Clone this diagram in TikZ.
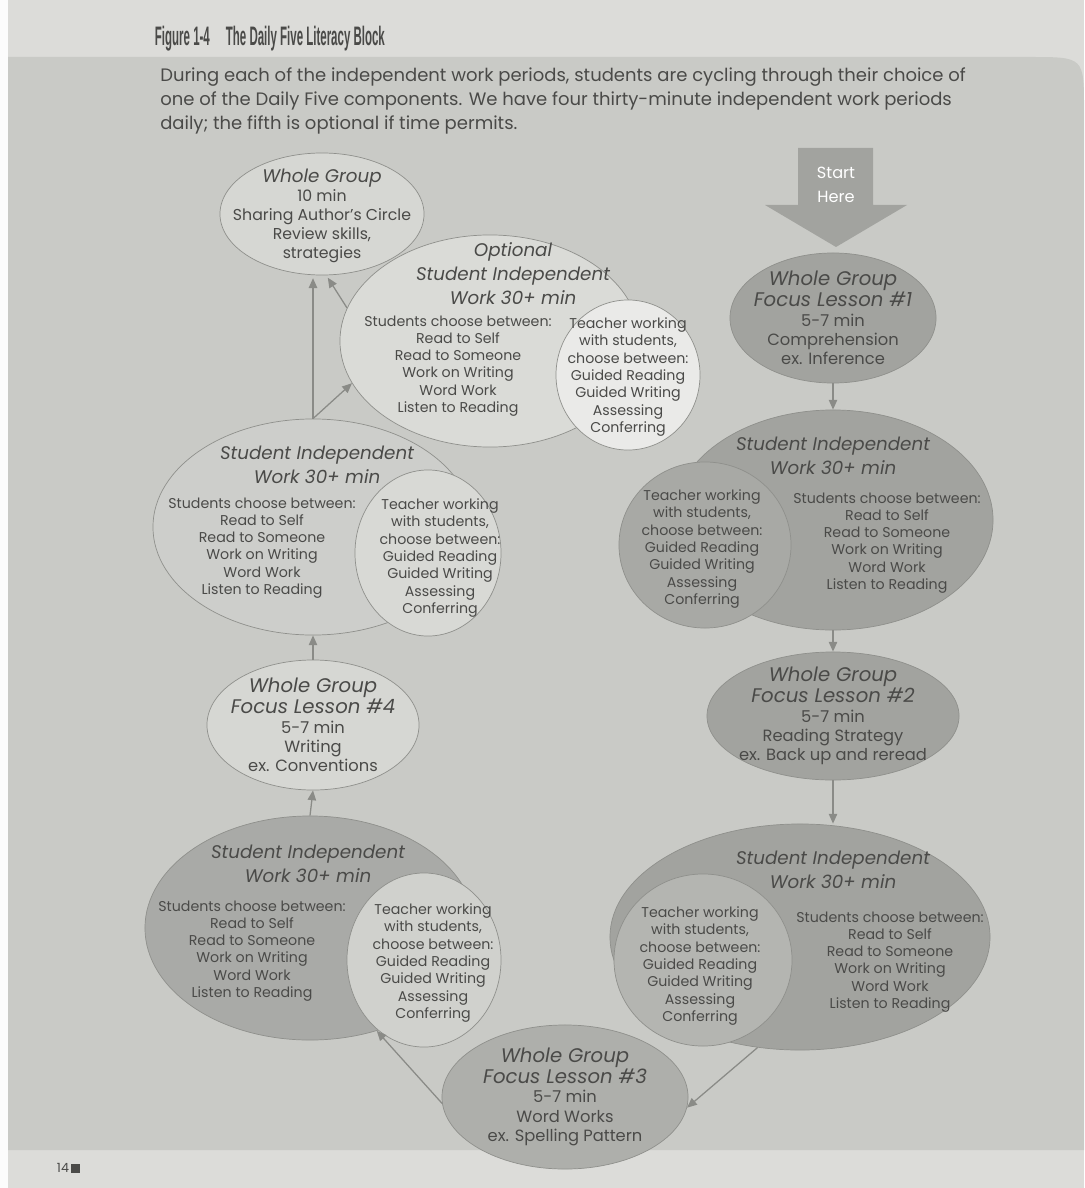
\documentclass[tikz,border=0pt]{standalone}
\usepackage{fontspec}
\setmainfont{Poppins}
\newfontfamily\titlefont[FakeStretch=0.43]{Liberation Sans}
\usetikzlibrary{shapes.geometric,arrows.meta}

\definecolor{pagegray}{HTML}{DCDCD9}
\definecolor{panelgray}{HTML}{C9CAC6}
\definecolor{ink}{HTML}{4A4A48}
\definecolor{rimgray}{HTML}{8F908C}
\definecolor{arrowgray}{HTML}{8A8B87}
\definecolor{lightfill}{HTML}{D6D7D3}
\definecolor{optfill}{HTML}{DADBD7}
\definecolor{whitefill}{HTML}{EAEAE8}
\definecolor{darkfill}{HTML}{A2A39F}
\definecolor{midfill}{HTML}{AEAFAB}
\definecolor{palefill}{HTML}{B4B5B1}

\newcommand{\headfont}{\fontsize{13}{17}\selectfont\itshape}
\newcommand{\lessonhead}{\fontsize{14}{15.5}\selectfont\itshape}
\newcommand{\listfont}{\fontsize{10.1}{12.3}\selectfont}

\begin{document}
\begin{tikzpicture}[x=0.025cm, y=-0.025cm,
    groupblob/.style={ellipse, draw=rimgray, line width=0.5pt, inner sep=0pt},
    lessontext/.style={text=ink, align=center, inner sep=0pt, font=\fontsize{11.6}{13.8}\selectfont},
    worktitle/.style={text=ink, align=center, inner sep=0pt, font=\headfont},
    worklist/.style={text=ink, align=center, inner sep=0pt, font=\listfont},
    flow/.style={draw=arrowgray, line width=0.9pt, -{Triangle[length=7pt,width=6pt]}}]
  %
  % PAGE
  \useasboundingbox (0,0) rectangle (1084,1188);
  \fill[pagegray] (0,0) rectangle (1084,1188);
  \fill[white!92!pagegray] (0,0) rectangle (8,1188);
  \fill[panelgray] (8,1150) -- (8,57) -- (1030,57) .. controls (1084,57) .. (1084,110) -- (1084,1150) -- cycle;
  \node[anchor=west, text=ink, font=\titlefont\bfseries\fontsize{19}{22}\selectfont] (title) at (150,39) {Figure 1-4\hspace{0.6em}The Daily Five Literacy Block};
  \node[anchor=north west, align=left, inner sep=0pt, text=ink, font=\fontsize{12.8}{17.2}\selectfont] (intro) at (160,67) {During each of the independent work periods, students are cycling through their choice of\\one of the Daily Five components. We have four thirty-minute independent work periods\\daily; the fifth is optional if time permits.};
  \node[anchor=west, text=ink, font=\fontsize{9}{11}\selectfont] (pagenum) at (52,1168) {14\,\rule{6pt}{6pt}};
  %
  % START HERE
  \fill[darkfill] (798,148) -- (873,148) -- (873,205) -- (907,205) -- (836,247) -- (765,205) -- (798,205) -- cycle;
  \node[align=center, text=white, font=\fontsize{11.5}{17}\selectfont] (start) at (836,185) {Start\\Here};
  %
  % RIGHT COLUMN
  \node[groupblob, fill=darkfill, minimum width=8cm, minimum height=5.5cm] (siwR) at (833,520) {};
  \node[groupblob, fill=darkfill!94!white, minimum width=4.3cm, minimum height=4.15cm] (tchR) at (705,545) {};
  \node[worktitle] (siwRhead) at (833,456) {Student Independent\\Work 30+ min};
  \node[worklist] (siwRlist) at (887,543) {Students choose between:\\Read to Self\\Read to Someone\\Work on Writing\\Word Work\\Listen to Reading};
  \node[worklist] (tchRtext) at (702,549) {Teacher working\\with students,\\choose between:\\Guided Reading\\Guided Writing\\Assessing\\Conferring};
  %
  % TOP LEFT
  \node[groupblob, fill=lightfill, minimum width=5.1cm, minimum height=3.05cm] (share) at (322,214) {};
  \node[lessontext, font=\fontsize{11.2}{13.5}\selectfont] (sharetext) at (322,216) {{\headfont Whole Group}\\10 min\\Sharing Author's Circle\\Review skills,\\strategies};
  \node[groupblob, fill=optfill, minimum width=7.5cm, minimum height=5.3cm] (opt) at (490,341) {};
  \node[groupblob, fill=whitefill, minimum width=3.6cm, minimum height=3.75cm] (tchO) at (628,375) {};
  \node[worktitle] (optHead) at (513,274) {Optional\\Student Independent\\Work 30+ min};
  \node[worklist] (optList) at (458,366) {Students choose between:\\Read to Self\\Read to Someone\\Work on Writing\\Word Work\\Listen to Reading};
  \node[worklist] (tchOtext) at (628,377) {Teacher working\\with students,\\choose between:\\Guided Reading\\Guided Writing\\Assessing\\Conferring};
  %
  % LEFT COLUMN
  \node[groupblob, fill=lightfill!96!black, minimum width=8cm, minimum height=5.4cm] (siwL) at (313,527) {};
  \node[groupblob, fill=lightfill!96!white, minimum width=3.65cm, minimum height=4.15cm] (tchL) at (428,553) {};
  \node[worktitle] (siwLhead) at (317,465) {Student Independent\\Work 30+ min};
  \node[worklist] (siwLlist) at (262,548) {Students choose between:\\Read to Self\\Read to Someone\\Work on Writing\\Word Work\\Listen to Reading};
  \node[worklist] (tchLtext) at (440,558) {Teacher working\\with students,\\choose between:\\Guided Reading\\Guided Writing\\Assessing\\Conferring};
  %
  % FOCUS LESSONS
  \node[groupblob, fill=darkfill, minimum width=5.15cm, minimum height=3.25cm] (les1) at (833,318) {};
  \node[lessontext] (les1text) at (les1) {{\lessonhead Whole Group}\\{\lessonhead Focus Lesson \#1}\\5-7 min\\Comprehension\\ex. Inference};
  \node[groupblob, fill=darkfill, minimum width=6.3cm, minimum height=3.2cm] (les2) at (833,716) {};
  \node[lessontext] (les2text) at (les2) {{\lessonhead Whole Group}\\{\lessonhead Focus Lesson \#2}\\5-7 min\\Reading Strategy\\ex. Back up and reread};
  \node[groupblob, fill=lightfill, minimum width=5.3cm, minimum height=3.25cm] (les4) at (313,725) {};
  \node[lessontext] (les4text) at (les4) {{\lessonhead Whole Group}\\{\lessonhead Focus Lesson \#4}\\5-7 min\\Writing\\ex. Conventions};
  %
  % BOTTOM
  \node[groupblob, fill=darkfill!92!white, minimum width=8.25cm, minimum height=5.6cm] (siwBL) at (310,928) {};
  \node[groupblob, fill=lightfill!97!black, minimum width=3.85cm, minimum height=4.35cm] (tchBL) at (424,960) {};
  \node[worktitle] (siwBLhead) at (308,864) {Student Independent\\Work 30+ min};
  \node[worklist] (siwBLlist) at (252,951) {Students choose between:\\Read to Self\\Read to Someone\\Work on Writing\\Word Work\\Listen to Reading};
  \node[worklist] (tchBLtext) at (433,963) {Teacher working\\with students,\\choose between:\\Guided Reading\\Guided Writing\\Assessing\\Conferring};
  \node[groupblob, fill=darkfill, minimum width=9.5cm, minimum height=5.65cm] (siwBR) at (800,937) {};
  \node[groupblob, fill=palefill, minimum width=4.45cm, minimum height=4.3cm] (tchBR) at (703,960) {};
  \node[worktitle] (siwBRhead) at (833,870) {Student Independent\\Work 30+ min};
  \node[worklist] (siwBRlist) at (890,962) {Students choose between:\\Read to Self\\Read to Someone\\Work on Writing\\Word Work\\Listen to Reading};
  \node[worklist] (tchBRtext) at (700,966) {Teacher working\\with students,\\choose between:\\Guided Reading\\Guided Writing\\Assessing\\Conferring};
  \node[groupblob, fill=midfill, minimum width=6.15cm, minimum height=3.6cm] (les3) at (565,1097) {};
  \node[lessontext] (les3text) at (les3) {{\lessonhead Whole Group}\\{\lessonhead Focus Lesson \#3}\\5-7 min\\Word Works\\ex. Spelling Pattern};
  %
  % ARROWS
  \draw[flow] (les1.south) -- (siwR.north);
  \draw[flow] (siwR.south) -- (les2.north);
  \draw[flow] (les2.south) -- (les2.south |- siwBR.north);
  \draw[flow] (siwBR.-111) -- (les3.-5);
  \draw[flow] (les3.183) -- (siwBL.-57);
  \draw[flow] (siwBL.north) -- (les4.south);
  \draw[flow] (les4.north) -- (siwL.south);
  \draw[flow, shorten >=2pt] (siwL.north) -- (siwL.north |- share.south);
  \draw[flow] (siwL.north) -- (opt.197);
  \draw[flow, shorten >=2pt] (opt.167) -- (share.-86);
  %
\end{tikzpicture}
\end{document}
